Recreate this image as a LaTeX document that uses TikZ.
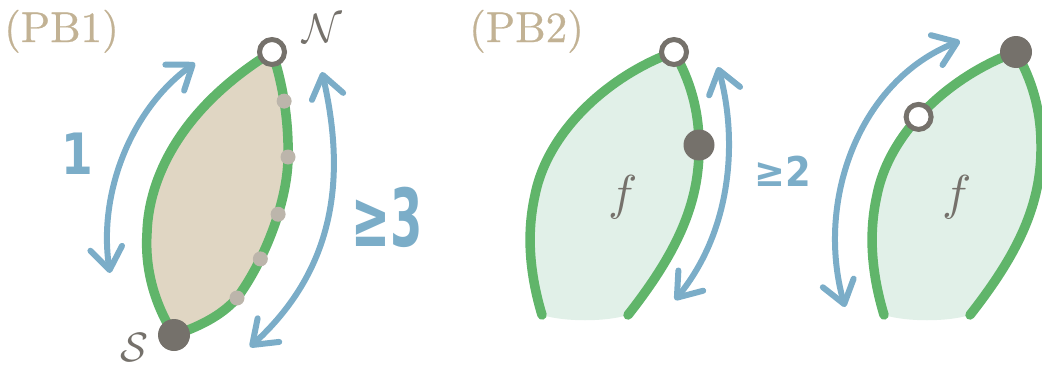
\documentclass[tikz,border=0pt]{standalone}
\usepackage{fontspec}
\usepackage{graphicx}
\newfontfamily\handfont{DejaVu Sans}
\newfontfamily\titlefont{lmroman10-regular}[Extension=.otf,FakeBold=0.6]
\usetikzlibrary{arrows.meta}
\definecolor{edgegreen}{HTML}{60B56A}
\definecolor{arrowblue}{HTML}{7BADC8}
\definecolor{titletan}{HTML}{C2B294}
\definecolor{lensfill}{HTML}{E0D6C3}
\definecolor{leaffill}{HTML}{E1F0E8}
\definecolor{vgray}{HTML}{75716B}
\definecolor{dotgray}{HTML}{BCB5AB}
\tikzset{
  edge/.style={draw=edgegreen, line width=9.5pt, line cap=round},
  twoway/.style={draw=arrowblue, line width=6pt, line cap=round,
    >={Straight Barb[length=22pt,width=32pt,round]}, <->},
  opendot/.style={circle, draw=vgray, fill=white, line width=5pt, minimum size=25pt, inner sep=0pt},
  fulldot/.style={circle, fill=vgray, minimum size=32pt, inner sep=0pt},
  minidot/.style={circle, fill=dotgray, minimum size=15pt, inner sep=0pt},
  title/.style={text=titletan, font=\titlefont\fontsize{43}{50}\selectfont, inner sep=0pt, anchor=base west},
  mathlbl/.style={text=vgray, inner sep=0pt},
  handlbl/.style={text=arrowblue, inner sep=0pt},
}
\begin{document}
\begin{tikzpicture}[x=1pt,y=-1pt]
\useasboundingbox (0,0) rectangle (1042,367);
\clip (0,0) rectangle (1042,367);

% ---------- PB1 ----------
\node[title] (t1) at (4,42) {(PB1)};
\coordinate (S) at (174,335);
\coordinate (N) at (272,52);
\coordinate (L) at (147,233);
\coordinate (M) at (288,157);
\coordinate (W) at (237,298);
\fill[lensfill] (S) .. controls (152,300) and (145,265) .. (L)
  .. controls (148,190) and (170,115) .. (N)
  .. controls (282,80) and (289,120) .. (M)
  .. controls (288,200) and (265,260) .. (W)
  .. controls (225,312) and (205,325) .. (S) -- cycle;
\draw[edge] (S) .. controls (152,300) and (145,265) .. (L)
  .. controls (148,190) and (170,115) .. (N);
\draw[edge] (N) .. controls (282,80) and (289,120) .. (M)
    node[minidot,pos=0.5] (d1) {} node[minidot,pos=1] (d2) {}
  .. controls (288,200) and (265,260) .. (W)
    node[minidot,pos=0.4] (d3) {} node[minidot,pos=0.7] (d4) {} node[minidot,pos=1] (d5) {}
  .. controls (225,312) and (205,325) .. (S);
\node[opendot] (Nd) at (N) {};
\node[fulldot] (Sd) at (S) {};
\node[mathlbl] (Nl) at (322,28) {\scalebox{4.1}{$\mathcal{N}$}};
\node[mathlbl] (Sl) at (134,347) {\scalebox{4.1}{$\mathcal{S}$}};

\coordinate (a1t) at (195,63);
\coordinate (a1b) at (110,273);
\draw[twoway] (a1t) .. controls (130,110) and (98,195) .. (a1b);
\coordinate (a2t) at (322,72);
\coordinate (a2b) at (250,347);
\draw[twoway] (a2t) .. controls (342,160) and (345,260) .. (a2b);
\node[handlbl, font=\handfont\bfseries\fontsize{57}{60}\selectfont] (one) at (77,154) {\scalebox{0.8}[1]{1}};
\node[handlbl, font=\handfont\bfseries\fontsize{80}{90}\selectfont] (ge3) at (387,217) {\scalebox{0.58}[1]{≥3}};

% ---------- PB2 ----------
\node[title] (t2) at (469,42) {(PB2)};
% leaf A
\coordinate (Abl) at (542,315);
\coordinate (Alm) at (535,195);
\coordinate (Atop) at (674,52);
\coordinate (Amid) at (699,145);
\coordinate (Abr) at (628,315);
\fill[leaffill] (Abl) .. controls (530,275) and (526,235) .. (Alm)
  .. controls (548,130) and (610,75) .. (Atop)
  .. controls (690,80) and (699,110) .. (Amid)
  .. controls (700,205) and (675,255) .. (Abr)
  .. controls (605,322) and (565,322) .. (Abl) -- cycle;
\draw[edge] (Abl) .. controls (530,275) and (526,235) .. (Alm)
  .. controls (548,130) and (610,75) .. (Atop);
\draw[edge] (Atop) .. controls (690,80) and (699,110) .. (Amid)
  .. controls (700,205) and (675,255) .. (Abr);
\node[opendot] (Ao) at (Atop) {};
\node[fulldot, minimum size=31pt] (Af) at (Amid) {};
\node[mathlbl] (fA) at (623,197) {\scalebox{4.9}{$f$}};

\coordinate (a3t) at (718,67);
\coordinate (a3b) at (675,300);
\draw[twoway] (a3t) .. controls (738,140) and (732,230) .. (a3b);
\node[handlbl, font=\handfont\bfseries\fontsize{41}{48}\selectfont] (ge2) at (783,171) {\scalebox{0.9}[1]{≥2}};

% leaf B
\coordinate (Bbl) at (884,315);
\coordinate (Blm) at (877,195);
\coordinate (Btop) at (1016,52);
\coordinate (Bmid) at (1041,145);
\coordinate (Bbr) at (970,315);
\fill[leaffill] (Bbl) .. controls (872,275) and (868,235) .. (Blm)
  .. controls (890,130) and (952,75) .. (Btop)
  .. controls (1032,80) and (1041,110) .. (Bmid)
  .. controls (1042,205) and (1017,255) .. (Bbr)
  .. controls (947,322) and (907,322) .. (Bbl) -- cycle;
\draw[edge] (Bbl) .. controls (872,275) and (868,235) .. (Blm)
  .. controls (890,130) and (952,75) .. (Btop)
  coordinate[pos=0.44] (Bpos);
\draw[edge] (Btop) .. controls (1032,80) and (1041,110) .. (Bmid)
  .. controls (1042,205) and (1017,255) .. (Bbr);
\node[opendot] (Bo) at (Bpos) {};
\node[fulldot] (Bf) at (Btop) {};
\node[mathlbl] (fB) at (957,197) {\scalebox{4.9}{$f$}};

\coordinate (a4t) at (960,41);
\coordinate (a4b) at (845,307);
\draw[twoway] (a4t) .. controls (860,80) and (815,200) .. (a4b);
\end{tikzpicture}
\end{document}
